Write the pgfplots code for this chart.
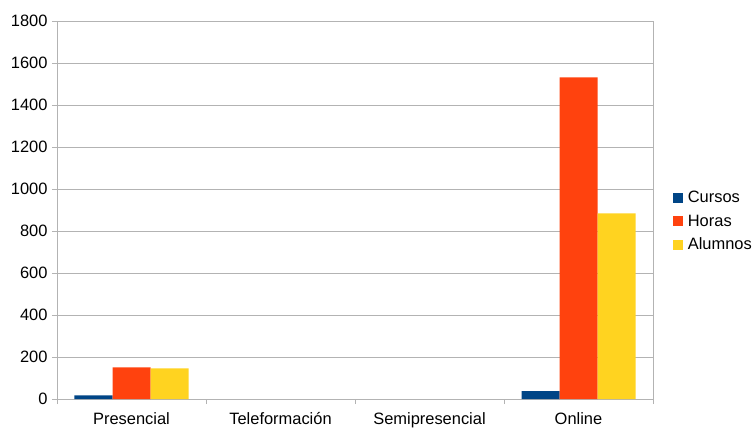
\documentclass[border=0pt]{standalone}
\usepackage{pgfplots}
\pgfplotsset{compat=1.18}
\usepackage{fontspec}
\setmainfont{Liberation Sans}
\usetikzlibrary{calc}
\definecolor{cursos}{HTML}{004586}
\definecolor{horas}{HTML}{FF420E}
\definecolor{alumnos}{HTML}{FFD320}
\definecolor{gridc}{HTML}{B3B3B3}
\begin{document}
\begin{tikzpicture}
\begin{axis}[name=ax, scale only axis, width=596bp, height=378bp,
  xmin=-0.5, xmax=3.5, ymin=0, ymax=1800,
  ybar=0pt, bar width=38bp,
  xtick={0,1,2,3},
  xticklabels={Presencial,Teleformación,Semipresencial,Online},
  minor xtick={-0.5,0.5,1.5,2.5,3.5},
  major x tick style={draw=none},
  ytick={0,200,...,1800},
  ymajorgrids, grid style={color=gridc, line width=0.8bp},
  axis line style={gridc, line width=0.8bp},
  tick align=outside, tick style={gridc, line width=0.8bp},
  major tick length=5bp, minor tick length=5bp,
  xtick pos=bottom, ytick pos=left,
  ticklabel style={font=\fontsize{16.5}{19}\selectfont, text=black},
  xticklabel style={yshift=-5bp},
  yticklabel style={xshift=-1bp},
  /pgf/number format/assume math mode=true,
  /pgf/number format/1000 sep={},
  legend style={at={(1.033,0.47)}, anchor=west, draw=none, fill=none,
    font=\fontsize{16.5}{19}\selectfont, row sep=6.5bp, inner sep=0pt,
    nodes={inner xsep=5bp}},
  legend cell align=left,
]
\addplot[fill=cursos, draw=none, legend image code/.code={\path[fill=cursos] (0bp,-5bp) rectangle (10bp,5bp);}] coordinates {(0,17) (3,37)};
\addplot[fill=horas, draw=none, legend image code/.code={\path[fill=horas] (0bp,-5bp) rectangle (10bp,5bp);}] coordinates {(0,151) (3,1532)};
\addplot[fill=alumnos, draw=none, legend image code/.code={\path[fill=alumnos] (0bp,-5bp) rectangle (10bp,5bp);}] coordinates {(0,146) (3,884)};
\legend{Cursos,Horas,Alumnos}
\end{axis}
\pgfresetboundingbox
\path ($(ax.south west)+(-57bp,-29bp)$) rectangle ($(ax.north east)+(102bp,21bp)$);
\end{tikzpicture}
\end{document}
